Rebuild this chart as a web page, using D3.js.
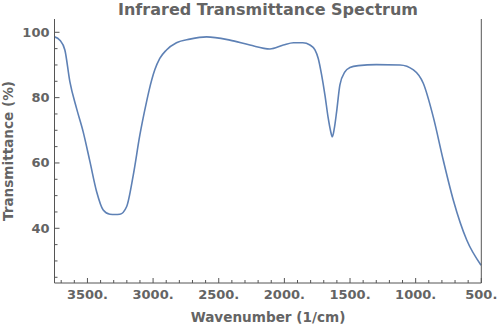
<!DOCTYPE html>
<html><head><meta charset="utf-8">
<script src="https://cdn.jsdelivr.net/npm/d3@7"></script>
<style>body{margin:0;background:#fff}svg{display:block}text{font-family:"DejaVu Sans",sans-serif;font-weight:bold;fill:#646464}</style>
</head><body><svg id="c" width="500" height="327"></svg>
<script>
const wavenumber = [3750,3710,3672,3634,3583,3533,3481,3430,3380,3329,3290,3253,3202,3151,3101,3050,3030,2987,2949,2898,2822,2720,2593,2415,2263,2110,2008,1930,1860,1805,1767,1742,1716,1691,1666,1648,1635,1620,1602,1577,1539,1501,1437,1300,1119,1017,942,866,790,713,611,502];
const transmittance = [98.6,97.6,94.6,84.9,76.7,69.6,60.4,51.2,45.6,44.3,44.2,44.3,46.6,56.3,68.5,78.7,82.3,88.5,92.0,94.6,96.8,97.9,98.6,97.6,96.1,94.9,96.1,96.8,96.8,96.1,94.6,92.0,86.9,80.8,73.7,69.8,68.0,70.5,75.7,83.9,87.9,89.2,89.8,90.1,90.0,88.5,84.4,74.1,60.9,48.6,36.4,28.7];
const xMajor = [3500,3000,2500,2000,1500,1000,500];
const yMajor = [40,60,80,100];
const title = "Infrared Transmittance Spectrum";
const xTitle = "Wavenumber (1/cm)";
const yTitle = "Transmittance (%)";

const svg = d3.select("#c");
const L=54.5, R=481.3, T=19, B=283;
const x = d3.scaleLinear().domain([3751,500]).range([L,R]);
const y = d3.scaleLinear().domain([23.25,104.07]).range([B,T]);
const axisColor="#555";

const data = wavenumber.map((w,i)=>({w, t: transmittance[i]}));
svg.append("path").datum(data)
  .attr("fill","none").attr("stroke","#5E81B5").attr("stroke-width",1.6)
  .attr("d", d3.line().x(d=>x(d.w)).y(d=>y(d.t)).curve(d3.curveMonotoneX));

const g = svg.append("g");
g.append("line").attr("x1",L).attr("x2",R).attr("y1",B).attr("y2",B).attr("stroke",axisColor);
g.append("line").attr("x1",L).attr("x2",L).attr("y1",T).attr("y2",B).attr("stroke",axisColor);
g.append("line").attr("x1",R).attr("x2",R).attr("y1",T).attr("y2",B).attr("stroke",axisColor);

const xMinor = d3.range(600,3751,100).filter(v=>!xMajor.includes(v));
xMinor.forEach(v=>g.append("line").attr("x1",x(v)).attr("x2",x(v)).attr("y1",B).attr("y2",B-3).attr("stroke",axisColor));
xMajor.forEach(v=>{
  g.append("line").attr("x1",x(v)).attr("x2",x(v)).attr("y1",B).attr("y2",B-5).attr("stroke",axisColor);
  g.append("text").attr("x",x(v)).attr("y",B+16).attr("text-anchor","middle").attr("font-size",13).text(v+".");
});
const yMinor = d3.range(25,101,5).filter(v=>!yMajor.includes(v));
yMinor.forEach(v=>g.append("line").attr("x1",L).attr("x2",L+3).attr("y1",y(v)).attr("y2",y(v)).attr("stroke",axisColor));
yMajor.forEach(v=>{
  g.append("line").attr("x1",L).attr("x2",L+5).attr("y1",y(v)).attr("y2",y(v)).attr("stroke",axisColor);
  g.append("text").attr("x",L-5).attr("y",y(v)+4.5).attr("text-anchor","end").attr("font-size",13).text(v);
});

svg.append("text").attr("x",268).attr("y",15).attr("text-anchor","middle").attr("font-size",16).text(title);
svg.append("text").attr("x",268).attr("y",322).attr("text-anchor","middle").attr("font-size",13.6).text(xTitle);
svg.append("text").attr("transform","translate(13,151) rotate(-90)").attr("text-anchor","middle").attr("font-size",13.6).text(yTitle);
</script></body></html>
